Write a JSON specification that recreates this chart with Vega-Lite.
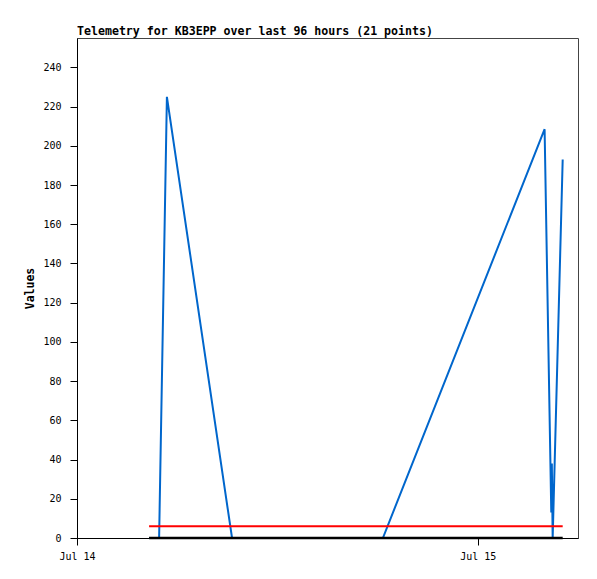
{
  "$schema": "https://vega.github.io/schema/vega-lite/v6.json",
  "width": 501,
  "height": 500,
  "autosize": {"type": "none"},
  "padding": {"left": 77, "top": 38, "right": 19, "bottom": 41},
  "background": "white",
  "title": {
    "text": "Telemetry for KB3EPP over last 96 hours (21 points)",
    "anchor": "start",
    "frame": "group",
    "font": "DejaVu Sans Mono",
    "fontSize": 11.6,
    "fontWeight": "bold",
    "color": "black",
    "baseline": "alphabetic",
    "offset": 3,
    "dy": 12
  },
  "config": {
    "view": {"stroke": "#444", "strokeWidth": 1},
    "axis": {
      "labelFont": "DejaVu Sans Mono",
      "labelFontSize": 10,
      "labelColor": "black",
      "titleFont": "DejaVu Sans Mono",
      "titleFontSize": 11.5,
      "titleFontWeight": "bold",
      "titleColor": "black",
      "domainColor": "black",
      "tickColor": "black",
      "grid": false
    }
  },
  "data": {
    "values": [
      {"time": "2024-07-14T04:19:00Z", "value": 0, "upper": 6, "lower": 0},
      {"time": "2024-07-14T04:55:00Z", "value": 0, "upper": 6, "lower": 0},
      {"time": "2024-07-14T05:23:00Z", "value": 225, "upper": 6, "lower": 0},
      {"time": "2024-07-14T09:17:00Z", "value": 0, "upper": 6, "lower": 0},
      {"time": "2024-07-14T10:00:00Z", "value": 0, "upper": 6, "lower": 0},
      {"time": "2024-07-14T10:50:00Z", "value": 0, "upper": 6, "lower": 0},
      {"time": "2024-07-14T11:40:00Z", "value": 0, "upper": 6, "lower": 0},
      {"time": "2024-07-14T12:30:00Z", "value": 0, "upper": 6, "lower": 0},
      {"time": "2024-07-14T13:20:00Z", "value": 0, "upper": 6, "lower": 0},
      {"time": "2024-07-14T14:10:00Z", "value": 0, "upper": 6, "lower": 0},
      {"time": "2024-07-14T15:00:00Z", "value": 0, "upper": 6, "lower": 0},
      {"time": "2024-07-14T15:50:00Z", "value": 0, "upper": 6, "lower": 0},
      {"time": "2024-07-14T16:40:00Z", "value": 0, "upper": 6, "lower": 0},
      {"time": "2024-07-14T17:30:00Z", "value": 0, "upper": 6, "lower": 0},
      {"time": "2024-07-14T18:00:00Z", "value": 0, "upper": 6, "lower": 0},
      {"time": "2024-07-14T18:19:00Z", "value": 0, "upper": 6, "lower": 0},
      {"time": "2024-07-15T04:00:00Z", "value": 208.5, "upper": 6, "lower": 0},
      {"time": "2024-07-15T04:24:00Z", "value": 13, "upper": 6, "lower": 0},
      {"time": "2024-07-15T04:26:00Z", "value": 38, "upper": 6, "lower": 0},
      {"time": "2024-07-15T04:29:00Z", "value": 0, "upper": 6, "lower": 0},
      {"time": "2024-07-15T05:05:00Z", "value": 193, "upper": 6, "lower": 0}
    ]
  },
  "layer": [
    {
      "mark": {"type": "line", "color": "#0066cc", "strokeWidth": 2},
      "encoding": {
        "x": {
          "field": "time",
          "type": "temporal",
          "scale": {
            "type": "utc",
            "domain": [
              {"year": 2024, "month": 7, "date": 14, "hours": 0, "utc": true},
              {"year": 2024, "month": 7, "date": 15, "hours": 6, "utc": true}
            ],
            "nice": false
          },
          "axis": {
            "title": null,
            "values": [
              {"year": 2024, "month": 7, "date": 14, "utc": true},
              {"year": 2024, "month": 7, "date": 15, "utc": true}
            ],
            "labelExpr": "utcFormat(datum.value, '%b %d')",
            "tickSize": 7,
            "labelPadding": 6,
            "labelFlush": false,
            "labelOverlap": false
          }
        },
        "y": {
          "field": "value",
          "type": "quantitative",
          "scale": {"domain": [0, 255], "nice": false, "zero": true},
          "axis": {
            "title": "Values",
            "values": [0, 20, 40, 60, 80, 100, 120, 140, 160, 180, 200, 220, 240],
            "tickSize": 7,
            "labelPadding": 9,
            "titlePadding": 7
          }
        }
      }
    },
    {
      "mark": {"type": "line", "color": "#ff0000", "strokeWidth": 2},
      "encoding": {
        "x": {"field": "time", "type": "temporal"},
        "y": {"field": "upper", "type": "quantitative"}
      }
    },
    {
      "mark": {"type": "line", "color": "black", "strokeWidth": 2.5},
      "encoding": {
        "x": {"field": "time", "type": "temporal"},
        "y": {"field": "lower", "type": "quantitative"}
      }
    }
  ]
}
